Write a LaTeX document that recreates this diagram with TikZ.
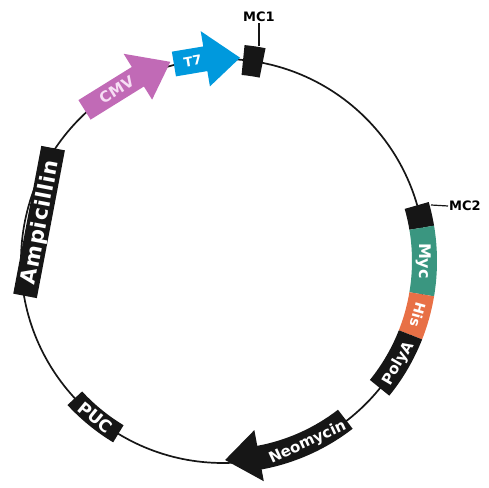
\documentclass[tikz,border=0pt]{standalone}
\usepackage{fontspec}
\setmainfont{DejaVu Sans}
\usetikzlibrary{calc}
\definecolor{cmvc}{RGB}{193,106,182}
\definecolor{t7c}{RGB}{0,153,221}
\definecolor{mycc}{RGB}{58,150,128}
\definecolor{hisc}{RGB}{232,112,70}
\definecolor{blk}{RGB}{22,22,22}
\newcommand\plseg[5]{\fill[#1] (#2:#4pt) arc[start angle=#2,end angle=#3,radius=#4pt] -- (#3:#5pt) arc[start angle=#3,end angle=#2,radius=#5pt] -- cycle;}
\newcommand\strarrow[6]{\fill[#1] ($(#2)!#5pt!90:(#3)$) -- ($(#3)!#5pt!-90:(#2)$) -- ($(#3)!#6pt!-90:(#2)$) -- (#4) -- ($(#3)!#6pt!90:(#2)$) -- ($(#3)!#5pt!90:(#2)$) -- ($(#2)!#5pt!-90:(#3)$) -- cycle;}
\newcommand\strbox[4]{\fill[#1] ($(#2)!#4pt!90:(#3)$) -- ($(#3)!#4pt!-90:(#2)$) -- ($(#3)!#4pt!90:(#2)$) -- ($(#2)!#4pt!-90:(#3)$) -- cycle;}
\tikzset{
  lbl/.style 2 args={font=\bfseries\fontsize{#1pt}{#1pt}\selectfont, text=white, inner sep=0pt, text height=#2pt, text depth=0pt},
  mclbl/.style={font=\bfseries\fontsize{13pt}{13pt}\selectfont, text=black, inner sep=1pt, text height=9.5pt, text depth=0pt},
  ring/.style={line width=1.7pt, draw=blk},
  tick/.style={line width=1.2pt, draw=blk}
}
\begin{document}
\begin{tikzpicture}[x=1pt,y=1pt]
\useasboundingbox (0,0) rectangle (489,487);
\coordinate (C) at (223,226);
\begin{scope}[shift={(C)}]
  \draw[ring] (0,0) circle[radius=202pt];
  % CMV straight arrow
  \coordinate (cmvA) at (132.5:205pt);
  \coordinate (cmvB) at (114.8:203pt);
  \coordinate (cmvT) at (104.8:206pt);
  \strarrow{cmvc}{cmvA}{cmvB}{cmvT}{11.5}{27}
  % T7 straight arrow
  \coordinate (t7A) at (104:203pt);
  \coordinate (t7B) at (95:203pt);
  \coordinate (t7T) at (85.2:204pt);
  \strarrow{t7c}{t7A}{t7B}{t7T}{12.5}{28}
  % MC1
  \plseg{blk}{78.7}{84.3}{187}{217}
  % right band
  \plseg{blk}{9.5}{16}{189}{214}
  \plseg{mycc}{-9.5}{9.5}{189}{214}
  \plseg{hisc}{-21.5}{-9.5}{189}{214}
  \plseg{blk}{-39}{-21.5}{189}{214}
  % Neomycin arrow
  \fill[blk] (-52.3:188pt) arc[start angle=-52.3,end angle=-79.5,radius=188pt] -- (-79.5:172pt) -- (-89.4:199pt) -- (-79.5:224pt) -- (-79.5:212pt) arc[start angle=-79.5,end angle=-52.3,radius=212pt] -- cycle;
  % pUC
  \plseg{blk}{222.8}{238.8}{192}{212}
  % Ampicillin (straight box)
  \coordinate (ampA) at (190:201pt);
  \coordinate (ampB) at (146.4:204pt);
  \strbox{blk}{ampA}{ampB}{12}
  % texts
  \path (cmvA) -- (cmvB) node[lbl={15}{11}, text={rgb,255:red,246;green,222;blue,244}, pos=0.6, sloped] (cmvt) {CMV};
  \path (t7A) -- (t7B) node[lbl={13}{9.5}, pos=0.6, sloped] (t7t) {T7};
  \path (ampA) -- (ampB) node[lbl={21}{15.3}, pos=0.5, sloped] (ampt) {\addfontfeatures{LetterSpace=5}Ampicillin};
  \node[lbl={17}{12.4}, rotate=-39.2] (puct) at (230.8:202pt) {PUC};
  \node[lbl={15}{11}, rotate=25] (neot) at (-65:199pt) {Neomycin};
  \node[lbl={15}{11}, rotate=59.7] (polyt) at (-30.3:202pt) {PolyA};
  \node[lbl={14}{10.2}, rotate=-105.5] (hist) at (-15.5:202pt) {His};
  \node[lbl={16}{11.7}, rotate=-90] (myct) at (0:202pt) {Myc};
\end{scope}
\node[mclbl] (mc1) at (259,470) {MC1};
\coordinate (mc1box) at (259,441);
\draw[tick] (mc1box) -- (mc1.south);
\node[mclbl, anchor=west] (mc2) at (448,281) {MC2};
\coordinate (mc2box) at (431,282);
\draw[tick] (mc2box) -- (mc2.west);
\end{tikzpicture}
\end{document}
